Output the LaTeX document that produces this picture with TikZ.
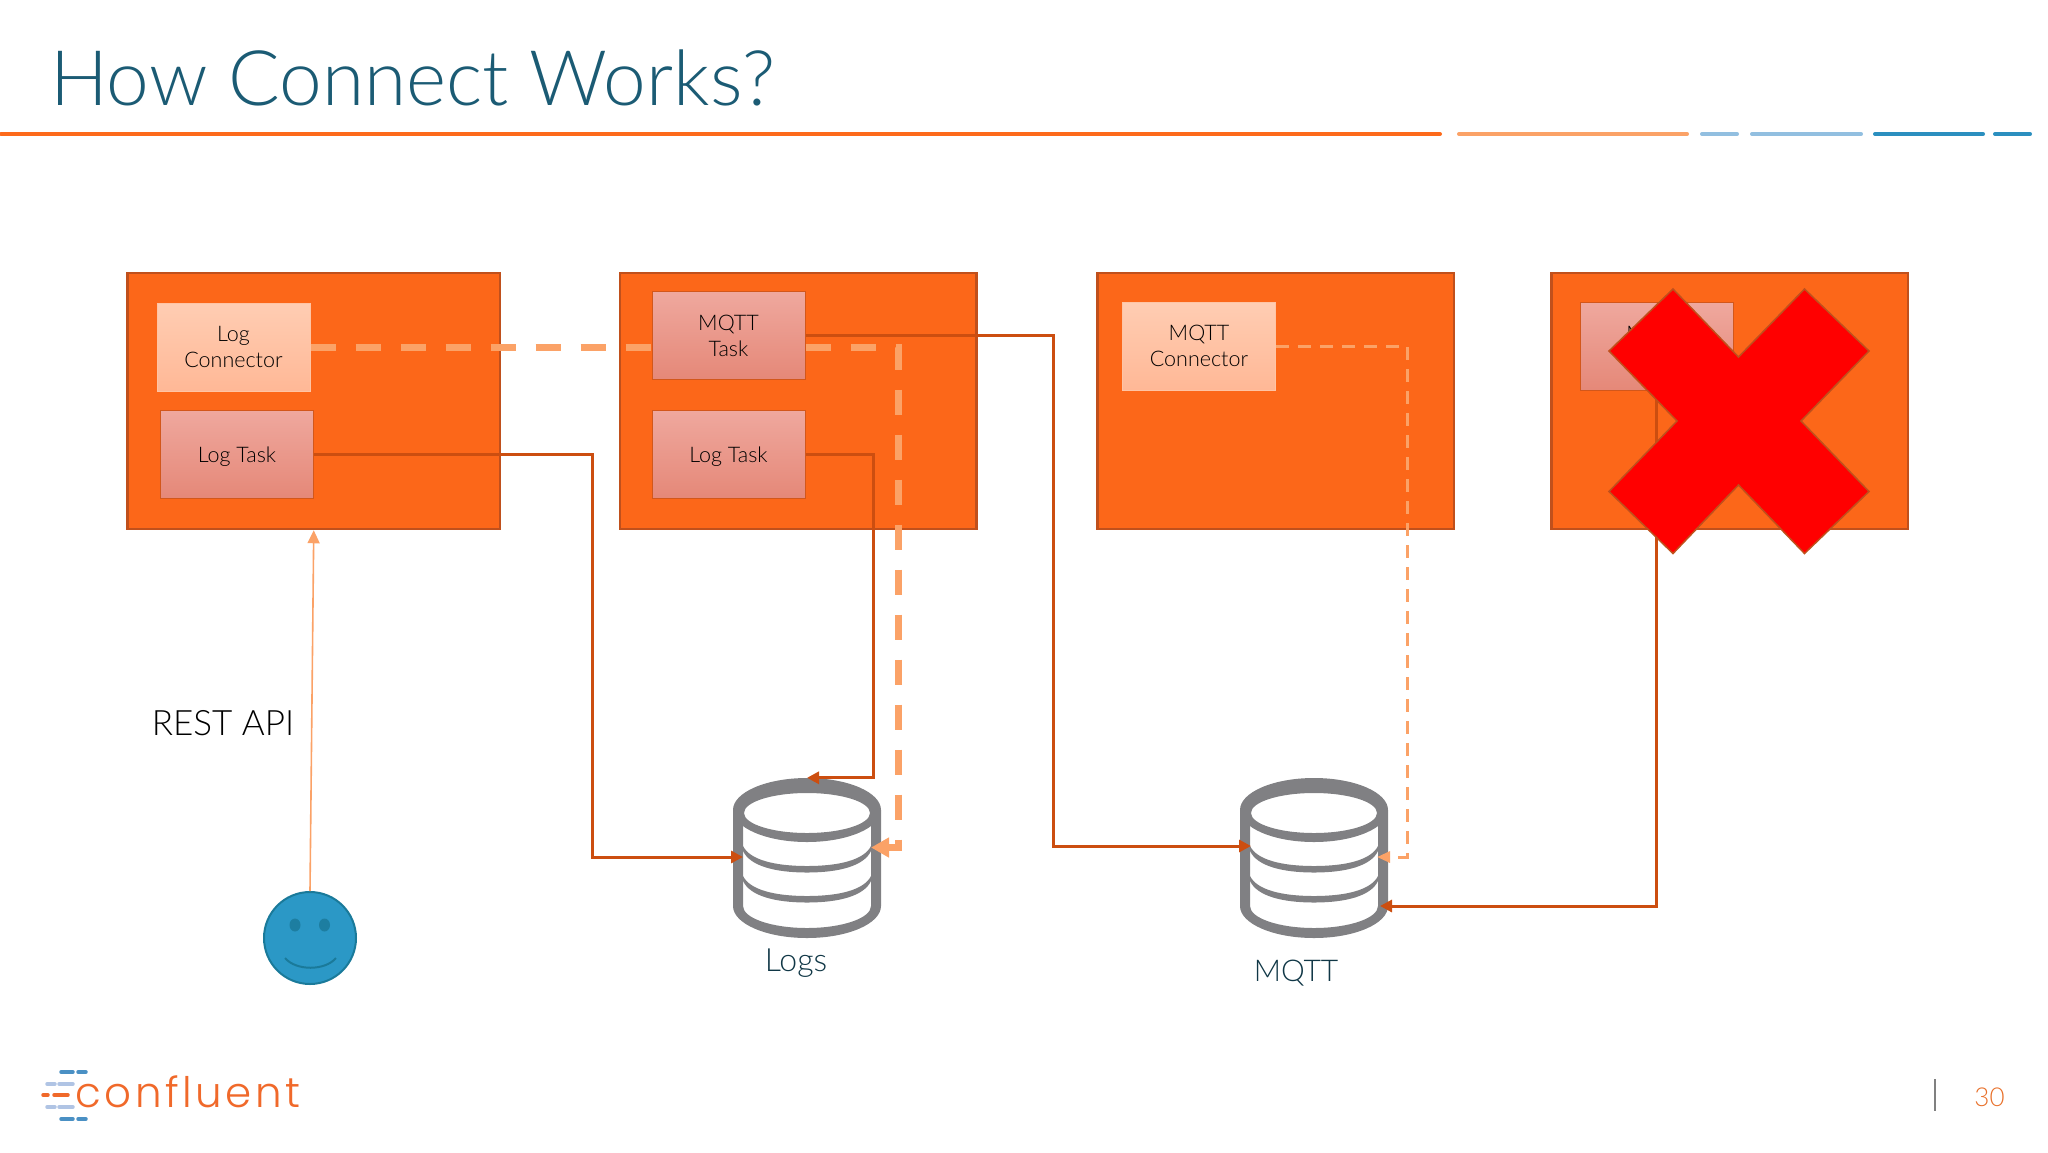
\documentclass[tikz,border=0pt]{standalone}
\usepackage{fontspec}
\setmainfont{Lato Light}
\newfontfamily\logofont[LetterSpace=8.5]{Poppins Light}
\usetikzlibrary{arrows.meta}
\definecolor{workerorange}{HTML}{FC6719}
\definecolor{workeredge}{HTML}{C0501C}
\definecolor{darkline}{HTML}{CC4E10}
\definecolor{lightline}{HTML}{FBA267}
\definecolor{titleblue}{HTML}{1B5B74}
\definecolor{dbgray}{HTML}{808083}
\definecolor{faceblue}{HTML}{2B98C6}
\definecolor{faceedge}{HTML}{1A7A9A}
\definecolor{tasktop}{HTML}{EFA89E}
\definecolor{taskbot}{HTML}{E58878}
\definecolor{connedge}{HTML}{FFC4A4}
\definecolor{conntop}{HTML}{FFCDB3}
\definecolor{connbot}{HTML}{FFB896}
\definecolor{logoorange}{HTML}{F0692A}
\definecolor{numorange}{HTML}{E8702A}
\tikzset{
  worker/.style={draw=workeredge,line width=2.5pt,fill=workerorange,minimum height=256pt,inner sep=0pt},
  taskbox/.style={draw=workeredge!70!workerorange,line width=1pt,top color=tasktop,bottom color=taskbot,
    minimum width=153pt,minimum height=88pt,inner sep=0pt,align=center,text=black,
    execute at begin node=\rule{0pt}{21pt},font=\fontsize{21.5}{26}\selectfont},
  connbox/.style={taskbox,draw=connedge,top color=conntop,bottom color=connbot},
  solidwire/.style={draw=darkline,line width=3pt,-{Triangle[length=12pt,width=12pt]}},
  heavydash/.style={draw=lightline,line width=7pt,dash pattern=on 25pt off 20pt,-{Triangle[length=18pt,width=19pt]}},
  thindash/.style={draw=lightline,line width=3pt,dash pattern=on 13pt off 9pt,-{Triangle[length=13pt,width=11pt]}},
  biglabel/.style={anchor=base,inner sep=0pt},
  dbcyl/.pic={
    \fill[dbgray,even odd rule] (0,-48) ellipse (74 and 32) (0,-45) ellipse (63 and 20);
    \fill[dbgray] (-74,-48) rectangle (-64,48) (64,-48) rectangle (74,48);
    \fill[dbgray] (-74,48) arc[start angle=180,end angle=0,x radius=74,y radius=32]
      -- (64,48) arc[start angle=0,end angle=180,x radius=64,y radius=22] -- cycle;
    \foreach \yy in {0,30}
      \fill[dbgray] (-64,-12+\yy) .. controls (-57,2+\yy) and (-32,8+\yy) .. (0,8+\yy)
        .. controls (32,8+\yy) and (57,2+\yy) .. (64,-12+\yy) -- (64,-7+\yy)
        .. controls (57,8+\yy) and (32,14.5+\yy) .. (0,14.5+\yy)
        .. controls (-32,14.5+\yy) and (-57,8+\yy) .. (-64,-7+\yy) -- cycle;
  }
}

\begin{document}
\begin{tikzpicture}[x=1pt,y=-1pt]
  \useasboundingbox (0,0) rectangle (2048,1152);

  \node (title)[anchor=base west,inner sep=0pt,text=titleblue,font=\fontsize{76.6}{90}\selectfont] at (50,105) {How Connect Works?};

  % header rule
  \foreach \xa/\xb/\col in {1/1440/FD6A1B,1459/1687/FBA267,1702/1737/92BFE0,1752/1861/92BFE0,1875/1983/2B8FBF,1995/2030/2B8FBF}{
    \definecolor{rulecol}{HTML}{\col}
    \draw[rulecol,line width=4pt,line cap=round] (\xa,134) -- (\xb,134);
  }

  % workers
  \node (w1)[worker,minimum width=372.5pt] at (313.75,401) {};
  \node (w2)[worker,minimum width=356.5pt] at (798.25,401) {};
  \node (w3)[worker,minimum width=356.5pt] at (1275.75,401) {};
  \node (w4)[worker,minimum width=356.5pt] at (1729.75,401) {};

  \node (logconn)[connbox] at (233.5,347) {Log\\Connector};
  \node (mqttconn)[connbox] at (1199,346) {MQTT\\Connector};

  % data stores
  \node (logs)[minimum width=148pt,minimum height=160pt,inner sep=0pt] at (807,858) {};
  \node (mqtt)[minimum width=148pt,minimum height=160pt,inner sep=0pt] at (1314,858) {};
  \pic at (807,858) {dbcyl};
  \pic at (1314,858) {dbcyl};
  \coordinate (logsin1) at (743,857);
  \coordinate (logsin2) at (871,847.5);
  \coordinate (mqttin1) at (1251,846);
  \coordinate (mqttin2) at (1377,857);
  \coordinate (mqttin3) at (1380,906);

  \draw[heavydash] (logconn.east) -- ++(587.5,0) |- (logsin2);
  \draw[thindash] (mqttconn.east) -- ++(131,0) |- (mqttin2);

  \node (logtask1)[taskbox] at (237,454) {Log Task};
  \node (mqtttask)[taskbox] at (728.5,335.5) {MQTT\\Task};
  \node (logtask2)[taskbox] at (728.5,454) {Log Task};
  \node (deadtask)[taskbox] at (1656.75,346.5) {MQTT\\Task};

  \draw[solidwire] (logtask1.east) -- ++(278,0) |- (logsin1);
  \draw[solidwire] (logtask2.east) -- ++(68,0) |- (logs.north);
  \draw[solidwire] (mqtttask.east) -- ++(248,0) |- (mqttin1);
  \draw[solidwire] (deadtask.south) |- (mqttin3);

  % the user
  \node (face)[circle,draw=faceedge,line width=2pt,fill=faceblue,minimum size=92pt,inner sep=0pt] at (310,938) {};
  \fill[faceedge!85!faceblue] (295,925) ellipse (5.5 and 6.5) (324.5,925) ellipse (5.5 and 6.5);
  \draw[faceedge,line width=2pt] (285,958) .. controls (296,971) and (325,971) .. (336,958);
  \draw[lightline,line width=1.6pt,-{Triangle[length=13pt,width=12pt]}] (face.north) -- (w1.south);

  \node (restlabel)[biglabel,text=black,font=\fontsize{35}{40}\selectfont] at (223,735) {REST API};
  \node (logslabel)[biglabel,text=titleblue!60!black,font=\fontsize{32}{36}\selectfont] at (796,971) {Logs};
  \node (mqttlabel)[biglabel,text=titleblue!60!black,font=\fontsize{30}{36}\selectfont] at (1296,981) {MQTT};

  % the failed worker
  \draw[fill=red,draw=workeredge,line width=1.5pt] (1673,289) -- (1738.5,357) -- (1804.5,289) -- (1869,351) -- (1801,421)
    -- (1869,491.5) -- (1804.5,553.5) -- (1738.5,485) -- (1673,553.5) -- (1609,491.5) -- (1677,421) -- (1609,351) -- cycle;

  % footer
  \node (logo)[anchor=base west,inner sep=0pt,text=logoorange,font=\logofont\fontsize{42}{48}\selectfont] at (75,1107) {confluent};
  \foreach \xa/\xb/\yy/\col in {61/73/1072/4A90C4,78/86/1072/4A90C4,47/55/1084/B0C4E4,59/73/1084/B0C4E4,43/48/1095/F0692A,54/68/1095/F0692A,47/55/1107/B0C4E4,59/73/1107/B0C4E4,61/73/1119/4A90C4,78/86/1119/4A90C4}{
    \definecolor{dashcol}{HTML}{\col}
    \draw[dashcol,line width=3.5pt,line cap=round] (\xa,\yy) -- (\xb,\yy);
  }
  \draw[gray,line width=2pt] (1935,1079) -- (1935,1111);
  \node (pagenum)[biglabel,text=numorange,font=\fontsize{26}{32}\selectfont] at (1989.5,1106) {30};
\end{tikzpicture}
\end{document}
